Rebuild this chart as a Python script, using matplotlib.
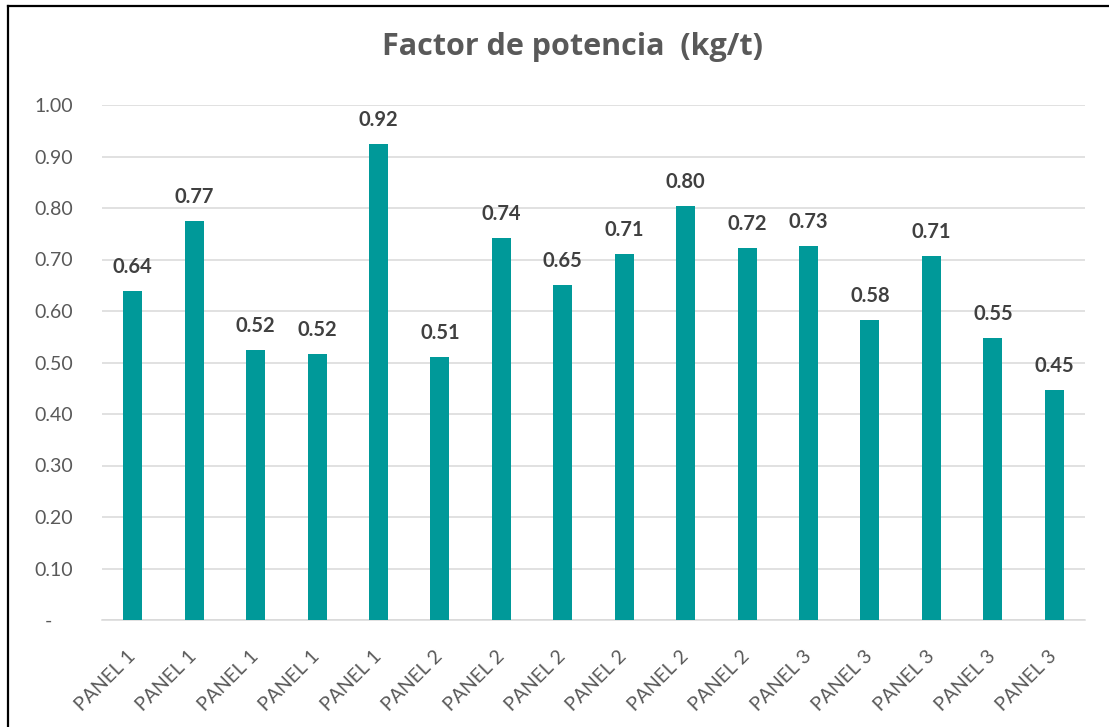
import matplotlib
matplotlib.use("Agg")
import matplotlib.pyplot as plt
from matplotlib.lines import Line2D

categories = ["PANEL 1", "PANEL 1", "PANEL 1", "PANEL 1", "PANEL 1",
              "PANEL 2", "PANEL 2", "PANEL 2", "PANEL 2", "PANEL 2", "PANEL 2",
              "PANEL 3", "PANEL 3", "PANEL 3", "PANEL 3", "PANEL 3"]
values = [0.639, 0.774, 0.524, 0.516, 0.924, 0.510, 0.742, 0.650,
          0.710, 0.804, 0.722, 0.726, 0.583, 0.706, 0.548, 0.447]
yticks = [0.0, 0.1, 0.2, 0.3, 0.4, 0.5, 0.6, 0.7, 0.8, 0.9, 1.0]
yticklabels = ["-    ", "0.10", "0.20", "0.30", "0.40", "0.50", "0.60",
               "0.70", "0.80", "0.90", "1.00"]
title = "Factor de potencia  (kg/t)"

plt.rcParams['font.family'] = ['Lato', 'DejaVu Sans']

W, H = 1109, 727
fig = plt.figure(figsize=(W / 100, H / 100), dpi=100)
ax = fig.add_axes([102 / W, 1 - 620 / H, (1085 - 102) / W, (620 - 105) / H])

x = list(range(len(values)))
bar_color = "#009999"
ax.bar(x, values, width=0.31, color=bar_color, zorder=3)

for xi, v in zip(x, values):
    ax.annotate(f"{v:.2f}", (xi, v), xytext=(0, 13), textcoords="offset points",
                ha="center", va="baseline", fontsize=14.5, fontweight="bold",
                color="#404040", clip_on=False)

ax.set_xlim(-0.5, len(values) - 0.5)
ax.set_ylim(0, 1.0)
ax.set_yticks(yticks)
ax.set_yticklabels(yticklabels)
ax.set_xticks(x)
ax.set_xticklabels(categories, rotation=45, ha="right", va="center",
                   rotation_mode="anchor")

ax.tick_params(axis="y", length=0, pad=21, labelsize=14, labelcolor="#595959")
ax.tick_params(axis="x", length=0, pad=24, labelsize=14, labelcolor="#595959")

ax.grid(axis="y", color="#D9D9D9", linewidth=1.1, zorder=0)
ax.set_axisbelow(True)
for s in ["top", "right", "left"]:
    ax.spines[s].set_visible(False)
ax.spines["bottom"].set_color("#D9D9D9")
ax.spines["bottom"].set_linewidth(1.1)

fig.text(572.5 / W, 1 - 55 / H, title, ha="center", va="baseline",
         fontsize=22, fontweight="bold", color="#595959",
         family=["Open Sans", "DejaVu Sans"])

# chart border (left and top visible)
fig.add_artist(Line2D([7.5 / W, 7.5 / W], [0, 1 - 5.5 / H], transform=fig.transFigure,
                      color="black", linewidth=1.6))
fig.add_artist(Line2D([7.5 / W, 1], [1 - 5.5 / H, 1 - 5.5 / H], transform=fig.transFigure,
                      color="black", linewidth=1.6))

fig.savefig("out.png", dpi=100)
